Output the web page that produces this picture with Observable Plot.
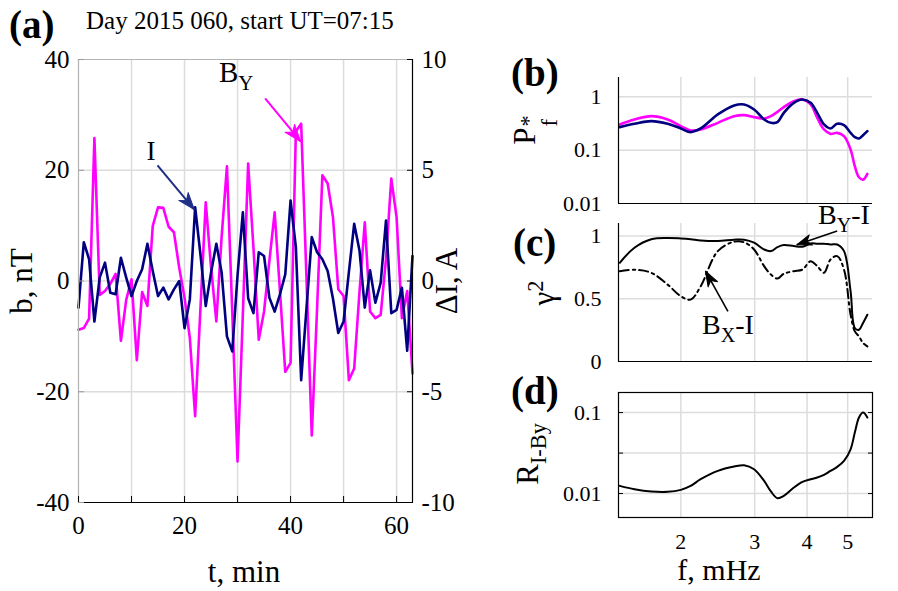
<!DOCTYPE html>
<html><head><meta charset="utf-8">
<script src="https://cdn.jsdelivr.net/npm/d3@7"></script>
<script src="https://cdn.jsdelivr.net/npm/@observablehq/plot@0.6"></script>
<style>
body{margin:0;background:#fff;}
#fig{position:relative;width:898px;height:591px;overflow:hidden;background:#fff;font-family:"Liberation Serif","Times New Roman",serif;color:#000;}
#fig svg{position:absolute;overflow:visible;}
.lbl{position:absolute;white-space:nowrap;line-height:1;}
.ctr{transform:translate(-50%,-50%);}
.rot{transform:translate(-50%,-50%) rotate(-90deg);}
.pn{font-weight:bold;font-size:39px;}
sub{font-size:0.72em;vertical-align:-0.38em;line-height:0;}
sup{font-size:0.72em;vertical-align:0.45em;line-height:0;}
.stk{display:inline-flex;flex-direction:column;font-size:0.72em;line-height:0.95;vertical-align:-0.05em;margin-left:1px;}
</style></head><body><div id="fig"></div>
<script>
// ---------- Panel (a): time series ----------
const timeMin = [0,1,2,3,4,5,6,7,8,9,10,11,12,13,14,15,16,17,18,19,20,21,22,23,24,25,26,27,28,29,30,31,32,33,34,35,36,37,38,39,40,41,42,43,44,45,46,47,48,49,50,51,52,53,54,55,56,57,58,59,60,61,62,63];
const byNT = [-8.8,-8.5,-6.8,25.8,-2.5,-1.8,-0.5,1.3,-10.8,-3.4,0.3,-14.3,-2.0,-4.5,9.9,13.3,13.2,9.8,8.8,2.4,-3.0,-10.3,-24.4,-5.0,14.2,2.5,-7.3,8.0,20.7,-5.5,-32.6,-6.0,21.2,6.0,-10.6,-5.5,3.6,12.4,-1.8,-16.4,-14.8,27.0,28.4,0.6,-27.9,-5.0,19.1,17.6,11.5,-1.5,-2.7,-17.9,-15.8,-2.0,10.6,-5.5,-6.7,-6.1,4.0,18.5,11.5,-6.7,-1.8,-16.7];
const dIA = [-1.2,1.75,0.98,-1.83,0.15,0.83,-0.53,-0.6,1.05,0.15,-0.68,0,0.53,1.68,0.45,-0.68,-0.3,-0.83,-0.38,0,-2.13,-0.83,3.33,1.2,-1.13,0.38,1.68,0.38,-2.5,-3.18,0.25,3.1,-0.78,-1.45,1.3,1.13,-0.75,-1.38,-0.6,0.3,3.63,1.53,-4.48,-1.25,1.98,1.3,0.98,0.45,-0.8,-2.35,-1.83,0.4,2.58,1.38,-1.2,0.48,-0.98,-0.08,2.73,-1.45,-1.3,-0.3,-3.15,1.13];
const tDomain = [0, 63];
const bDomain = [-40, 40];
const tTicks = [0,10,20,30,40,50,60];
const tLabels = [0,20,40,60];
const bTicks = [-40,-20,0,20,40];
const bGrid = [-20,0,20];
const iTicks = [-10,-5,0,5,10];
const nTperA = 4; // right axis: 10 A <-> 40 nT
// annotation arrows (data units)
const arrowI = [{x1:14.9, y1:20.9, x2:21.85, y2:12.9}];
const arrowBy = [{x1:35.2, y1:33.0, x2:41.9, y2:25.2}];

// ---------- Panels (b)-(d): spectra ----------
const freq = [1.43,1.55,1.70,1.86,2.00,2.11,2.23,2.45,2.68,2.83,2.99,3.16,3.28,3.40,3.52,3.72,3.90,4.08,4.23,4.39,4.55,4.72,4.90,5.08,5.20,5.32,5.44,5.57];
const pBy = [0.303,0.376,0.434,0.376,0.282,0.234,0.244,0.325,0.434,0.453,0.416,0.393,0.434,0.523,0.641,0.830,0.891,0.718,0.404,0.244,0.202,0.211,0.183,0.103,0.050,0.031,0.028,0.036];
const pI  = [0.270,0.312,0.350,0.312,0.255,0.218,0.255,0.467,0.689,0.718,0.578,0.376,0.325,0.335,0.501,0.771,0.891,0.771,0.501,0.303,0.255,0.312,0.294,0.211,0.175,0.166,0.191,0.227];
const cohByI = [0.787,0.907,0.975,0.985,0.981,0.975,0.965,0.960,0.971,0.971,0.947,0.893,0.880,0.912,0.928,0.920,0.915,0.941,0.939,0.939,0.933,0.933,0.880,0.560,0.267,0.253,0.307,0.373];
const cohBxI = [0.720,0.731,0.707,0.613,0.520,0.493,0.600,0.880,0.955,0.950,0.893,0.760,0.693,0.661,0.699,0.720,0.733,0.800,0.760,0.707,0.813,0.840,0.733,0.373,0.240,0.200,0.147,0.120];
const rIBy = [0.01244,0.0113,0.01059,0.0105,0.0111,0.0124,0.01503,0.01905,0.02155,0.02239,0.01997,0.01432,0.0106,0.00876,0.00935,0.01186,0.01393,0.01503,0.01577,0.0170,0.01905,0.02133,0.0253,0.0352,0.0566,0.0868,0.100,0.0868];
const fDomain = [1.42, 5.73];
const fTicks = [2,3,4,5];
const pDomain = [0.01, 2.3];
const pTicks = [0.01, 0.1, 1];
const pGrid = [0.1, 1];
const gDomain = [0, 1.1];
const gTicks = [0, 0.5, 1];
const gGrid = [0.5, 1];
const rDomain = [0.00506, 0.177];
const rTicks = [0.01, 0.0316, 0.1];
const rLabels = ["0.01", "", "0.1"];
const arrowByI = [{x1:4.72, y1:1.04, x2:3.78, y2:0.93}];
const arrowBxI = [{x1:2.59, y1:0.40, x2:2.29, y2:0.72}];

const tsRows = timeMin.map((t, i) => ({t, by: byNT[i], di: dIA[i]}));
const specRows = freq.map((f, i) => ({f, pBy: pBy[i], pI: pI[i], cBy: cohByI[i], cBx: cohBxI[i], r: rIBy[i]}));

const MAG = "#ff00ff", NAVY = "#000080", GRID = "#dcdcdc", ARROWNAVY = "#1f2f86";
const grid = {stroke: GRID, strokeOpacity: 1, strokeWidth: 1.5};
const baseStyle = fs => ({fontFamily: '"Liberation Serif","Times New Roman",serif', fontSize: fs, overflow: "visible", background: "transparent", color: "#000"});
const fig = document.getElementById("fig");
function place(svg, left, top) { svg.style.left = left + "px"; svg.style.top = top + "px"; fig.appendChild(svg); }

// filled, barbed arrowhead drawn by a vector mark
const headShape = {draw(ctx, l) { const w = l * 0.36; ctx.moveTo(0, -l); ctx.lineTo(-w, 0); ctx.lineTo(0, -l * 0.28); ctx.lineTo(w, 0); ctx.closePath(); }};
function withRotation(arrows, sx, sy) {
  return arrows.map(a => {
    const dx = sx.apply(a.x2) - sx.apply(a.x1), dy = sy.apply(a.y2) - sy.apply(a.y1);
    return {...a, rot: Math.atan2(dx, -dy) * 180 / Math.PI};
  });
}
function annotArrow(arrows, color, w, len) {
  return [
    Plot.link(arrows, {x1: "x1", y1: "y1", x2: "x2", y2: "y2", stroke: color, strokeWidth: w}),
    Plot.vector(arrows, {x: "x2", y: "y2", rotate: "rot", length: len, anchor: "end", shape: headShape, fill: color, stroke: color, strokeWidth: 1})
  ];
}

// Panel (a)
const LA = {width: 500, height: 591, marginLeft: 78, marginRight: 88, marginTop: 59, marginBottom: 89};
const sxA = Plot.scale({x: {domain: tDomain, range: [LA.marginLeft, LA.width - LA.marginRight]}});
const syA = Plot.scale({y: {domain: bDomain, range: [LA.height - LA.marginBottom, LA.marginTop]}});
const plotA = Plot.plot({
  ...LA,
  style: baseStyle("25px"),
  x: {domain: tDomain},
  y: {domain: bDomain},
  marks: [
    Plot.gridX(tTicks, grid),
    Plot.gridY(bGrid, grid),
    Plot.line(tsRows, {x: "t", y: "by", stroke: MAG, strokeWidth: 2.6}),
    Plot.line(tsRows, {x: "t", y: d => d.di * nTperA, stroke: NAVY, strokeWidth: 2.6}),
    Plot.ruleX([tDomain[0]], {stroke: "#b4b4b4", strokeWidth: 1}),
    Plot.ruleY([bDomain[1]], {stroke: "#b4b4b4", strokeWidth: 1}),
    Plot.ruleX([tDomain[1]], {stroke: "#000", strokeWidth: 1.2}),
    Plot.ruleY([bDomain[0]], {stroke: "#000", strokeWidth: 1.2}),
    Plot.axisY(bTicks, {anchor: "left", tickSize: -6, stroke: "#9a9a9a", tickFormat: d => String(d), label: null}),
    Plot.axisY(iTicks.map(a => a * nTperA), {anchor: "right", tickSize: -6, tickFormat: d => String(d / nTperA), label: null}),
    Plot.axisX(tTicks, {anchor: "bottom", tickSize: -6, tickPadding: 20, tickFormat: d => tLabels.includes(d) ? String(d) : "", label: null}),
    ...annotArrow(withRotation(arrowI, sxA, syA), ARROWNAVY, 2, 17),
    ...annotArrow(withRotation(arrowBy, sxA, syA), MAG, 2, 17)
  ]
});
place(plotA, 0, 0);

// Panel (b)
const plotB = Plot.plot({
  width: 398, height: 150, marginLeft: 118, marginRight: 26, marginTop: 17, marginBottom: 7,
  style: baseStyle("22px"),
  x: {type: "log", domain: fDomain, axis: null},
  y: {type: "log", domain: pDomain},
  marks: [
    Plot.ruleX(fTicks, grid),
    Plot.gridY(pGrid, grid),
    Plot.line(specRows, {x: "f", y: "pBy", curve: "catmull-rom", stroke: MAG, strokeWidth: 2.6}),
    Plot.line(specRows, {x: "f", y: "pI", curve: "catmull-rom", stroke: NAVY, strokeWidth: 2.6}),
    Plot.ruleX([fDomain[0]], {stroke: "#000", strokeWidth: 1.2}),
    Plot.ruleY([pDomain[0]], {stroke: "#000", strokeWidth: 1.2}),
    Plot.axisY(pTicks, {anchor: "left", tickSize: 0, tickPadding: 17, tickFormat: d => String(d), label: null})
  ]
});
place(plotB, 500, 60);

// Panel (c)
const LC = {width: 398, height: 160, marginLeft: 118, marginRight: 26, marginTop: 18, marginBottom: 4};
const sxC = Plot.scale({x: {type: "log", domain: fDomain, range: [LC.marginLeft, LC.width - LC.marginRight]}});
const syC = Plot.scale({y: {domain: gDomain, range: [LC.height - LC.marginBottom, LC.marginTop]}});
const plotC = Plot.plot({
  ...LC,
  style: baseStyle("22px"),
  x: {type: "log", domain: fDomain, axis: null},
  y: {domain: gDomain},
  marks: [
    Plot.ruleX(fTicks, grid),
    Plot.gridY(gGrid, grid),
    Plot.line(specRows, {x: "f", y: "cBx", curve: "catmull-rom", stroke: "#000", strokeWidth: 2, strokeDasharray: "9,4,2.5,4"}),
    Plot.line(specRows, {x: "f", y: "cBy", curve: "catmull-rom", stroke: "#000", strokeWidth: 2}),
    Plot.ruleX([fDomain[0]], {stroke: "#000", strokeWidth: 1.2}),
    Plot.ruleY([gDomain[0]], {stroke: "#000", strokeWidth: 1.2}),
    Plot.axisY(gTicks, {anchor: "left", tickSize: 0, tickPadding: 17, tickFormat: d => String(d), label: null}),
    ...annotArrow(withRotation(arrowByI, sxC, syC), "#000", 1.6, 15),
    ...annotArrow(withRotation(arrowBxI, sxC, syC), "#000", 1.6, 15)
  ]
});
place(plotC, 500, 205);

// Panel (d)
const plotD = Plot.plot({
  width: 398, height: 216, marginLeft: 118, marginRight: 26, marginTop: 17, marginBottom: 74,
  style: baseStyle("22px"),
  x: {type: "log", domain: fDomain, axis: null},
  y: {type: "log", domain: rDomain},
  marks: [
    Plot.ruleX(fTicks, grid),
    Plot.gridY(rTicks, grid),
    Plot.line(specRows, {x: "f", y: "r", curve: "catmull-rom", stroke: "#000", strokeWidth: 2}),
    Plot.frame({stroke: "#000", strokeWidth: 1.2}),
    Plot.axisY(rTicks, {anchor: "left", tickSize: -5, tickPadding: 22, tickFormat: d => rLabels[rTicks.indexOf(d)], label: null}),
    Plot.axisY(rTicks, {anchor: "right", tickSize: -5, tickFormat: () => "", label: null}),
    Plot.text(fTicks, {x: d => d, frameAnchor: "bottom", dy: 31, text: d => String(d), fontSize: 22})
  ]
});
place(plotD, 500, 375);

// ---------- HTML text ----------
function lbl(html, css, cls) {
  const d = document.createElement("div");
  d.className = "lbl " + (cls || "");
  d.innerHTML = html;
  Object.assign(d.style, css);
  fig.appendChild(d);
}
lbl("(a)", {left: "9px", top: "5px"}, "pn");
lbl("Day 2015 060, start UT=07:15", {left: "86px", top: "8px", fontSize: "25px"});
lbl("b, nT", {left: "21px", top: "281px", fontSize: "31px"}, "rot");
lbl("&Delta;I, A", {left: "446px", top: "281px", fontSize: "31px"}, "rot");
lbl("t, min", {left: "244px", top: "571px", fontSize: "31px"}, "ctr");
lbl("I", {left: "151px", top: "151px", fontSize: "27px"}, "ctr");
lbl("B<sub>Y</sub>", {left: "219px", top: "58px", fontSize: "29px"});
lbl("(b)", {left: "511px", top: "53px"}, "pn");
lbl("(c)", {left: "513px", top: "223px"}, "pn");
lbl("(d)", {left: "511px", top: "371px"}, "pn");
lbl('P<span class="stk"><span>*</span><span>f</span></span>', {left: "535px", top: "130px", fontSize: "31px"}, "rot");
lbl("&gamma;<sup>2</sup>", {left: "543px", top: "293px", fontSize: "31px"}, "rot");
lbl("R<sub>I-By</sub>", {left: "527px", top: "454px", fontSize: "31px"}, "rot");
lbl("f, mHz", {left: "719px", top: "570px", fontSize: "30px"}, "ctr");
lbl("B<sub>Y</sub>-I", {left: "818px", top: "201px", fontSize: "28px"});
lbl("B<sub>X</sub>-I", {left: "702px", top: "311px", fontSize: "28px"});
</script></body></html>
